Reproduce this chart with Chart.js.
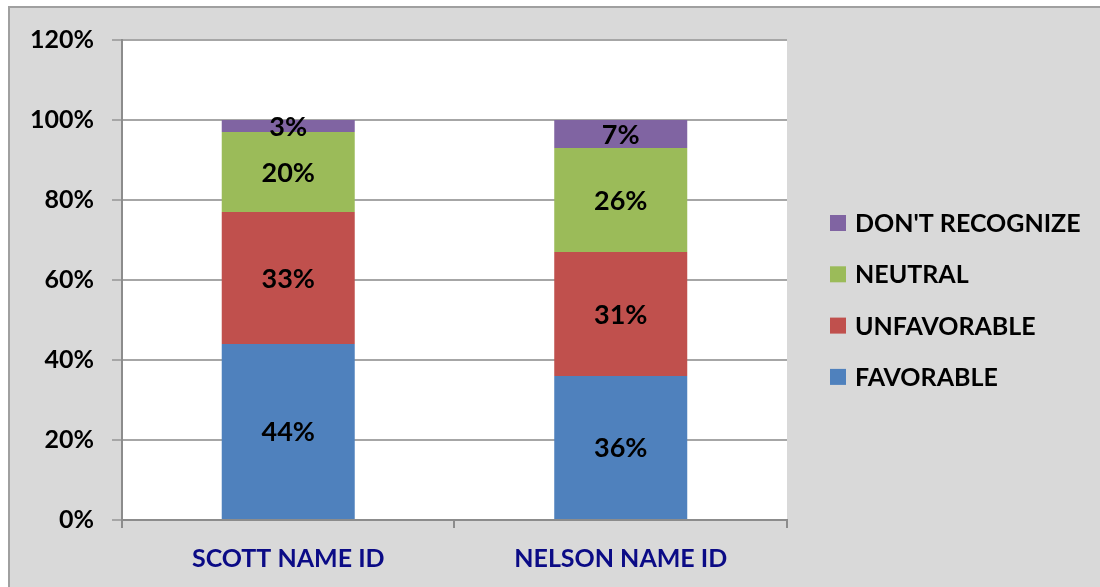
<!DOCTYPE html>
<html><head><meta charset="utf-8">
<script src="https://cdn.jsdelivr.net/npm/chart.js@4"></script>
<style>
html,body{margin:0;padding:0;background:#fff;width:1100px;height:587px;overflow:hidden}
#frame{position:absolute;left:8px;top:6px;width:1100px;height:600px;background:#d9d9d9;border-left:2px solid #a0a0a0;border-top:2px solid #a0a0a0}
#wrap{position:absolute;left:0;top:0;width:1100px;height:587px}
</style></head><body>
<div id="frame"></div>
<div id="wrap"><canvas id="c"></canvas></div>
<script>
const categories = ['SCOTT NAME ID', 'NELSON NAME ID'];
const favorable = [44, 36];
const unfavorable = [33, 31];
const neutral = [20, 26];
const dontRecognize = [3, 7];
const seriesNames = ['FAVORABLE', 'UNFAVORABLE', 'NEUTRAL', "DON'T RECOGNIZE"];
const yMax = 120;
const yStep = 20;

const colors = ['#4f81bd', '#c0504d', '#9bbb59', '#8064a2'];
const FONT = 'Lato, "Open Sans", sans-serif';

const plotBg = {
  id: 'plotBg',
  beforeDraw(chart) {
    const {ctx, chartArea: a} = chart;
    ctx.save();
    ctx.fillStyle = '#ffffff';
    ctx.fillRect(a.left, a.top, a.right - a.left, a.bottom - a.top);
    ctx.restore();
  }
};

const segLabels = {
  id: 'segLabels',
  afterDatasetsDraw(chart) {
    const {ctx} = chart;
    ctx.save();
    ctx.font = 'bold 27px ' + FONT;
    ctx.fillStyle = '#000';
    ctx.textAlign = 'center';
    ctx.textBaseline = 'middle';
    chart.data.datasets.forEach((ds, i) => {
      const meta = chart.getDatasetMeta(i);
      meta.data.forEach((el, j) => {
        const p = el.getProps(['x', 'y', 'base'], true);
        ctx.fillText(ds.data[j] + '%', p.x, (p.y + p.base) / 2 + 1);
      });
    });
    ctx.restore();
  }
};

// legend drawn from the chart's own legend items, laid out to the right of the plot
const sideLegend = {
  id: 'sideLegend',
  afterDraw(chart) {
    const {ctx, chartArea: a} = chart;
    const items = chart.options.plugins.legend.labels.generateLabels(chart).reverse();
    ctx.save();
    ctx.font = 'bold 25px ' + FONT;
    ctx.textAlign = 'left';
    ctx.textBaseline = 'middle';
    const x0 = a.right + 43;
    const y0 = a.top + 183;
    const step = 51.3;
    items.forEach((it, i) => {
      const cy = y0 + i * step;
      ctx.fillStyle = it.fillStyle;
      ctx.fillRect(x0, cy - 8, 16, 16);
      ctx.fillStyle = '#000';
      ctx.fillText(it.text, x0 + 25, cy + 1);
    });
    ctx.restore();
  }
};

const values = [favorable, unfavorable, neutral, dontRecognize];

new Chart(document.getElementById('c'), {
  type: 'bar',
  data: {
    labels: categories,
    datasets: values.map((v, i) => ({
      label: seriesNames[i],
      data: v,
      backgroundColor: colors[i],
      borderWidth: 0,
      categoryPercentage: 1,
      barPercentage: 0.4
    }))
  },
  options: {
    responsive: true,
    maintainAspectRatio: false,
    animation: false,
    layout: {padding: {left: 12, top: 40, bottom: -3, right: 313}},
    plugins: {
      tooltip: {enabled: false},
      legend: {display: false}
    },
    scales: {
      x: {
        stacked: true,
        offset: true,
        grid: {display: true, drawOnChartArea: false, drawTicks: true, tickLength: 8, offset: true, color: '#8c8c8c', lineWidth: 2},
        border: {display: true, color: '#8c8c8c', width: 2},
        ticks: {color: '#0b0b86', padding: 16, font: {family: FONT, size: 25, weight: 'bold'}}
      },
      y: {
        stacked: true,
        min: 0,
        max: yMax,
        ticks: {stepSize: yStep, padding: 18, color: '#000', font: {family: FONT, size: 25, weight: 'bold'}, callback: v => v + '%'},
        grid: {color: '#a6a6a6', lineWidth: 2, tickLength: 10},
        border: {display: true, color: '#8c8c8c', width: 2}
      }
    }
  },
  plugins: [plotBg, segLabels, sideLegend]
});
</script>
</body></html>
